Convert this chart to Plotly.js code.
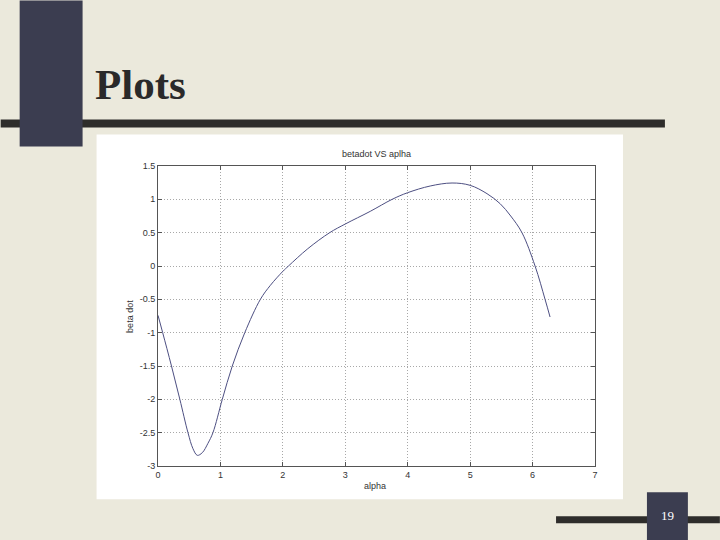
<!DOCTYPE html>
<html>
<head>
<meta charset="utf-8">
<script src="https://cdn.plot.ly/plotly-3.0.1.min.js"></script>
<style>html,body{margin:0;padding:0;background:#ebe9dc;}</style>
</head>
<body>
<div id="chart" style="width:720px;height:540px;"></div>
<script>
// Data (alpha vs beta dot)
const alpha = [0, 0.075, 0.216, 0.35, 0.48, 0.56, 0.63, 0.71, 0.8, 0.88, 1.03, 1.19, 1.39, 1.64, 1.8, 2.0, 2.09, 2.4, 2.75, 3.0, 3.4, 3.75, 4.0, 4.36, 4.71, 5.0, 5.27, 5.48, 5.65, 5.83, 6.04, 6.2, 6.28];
const betadot = [-0.74, -1.0, -1.5, -2.0, -2.5, -2.74, -2.84, -2.8, -2.66, -2.5, -2.0, -1.5, -1.0, -0.5, -0.29, -0.08, 0.0, 0.26, 0.5, 0.63, 0.82, 1.0, 1.1, 1.2, 1.245, 1.21, 1.085, 0.935, 0.75, 0.5, 0.0, -0.5, -0.765];
const xTicks = [0, 1, 2, 3, 4, 5, 6, 7];
const yTicks = [-3, -2.5, -2, -1.5, -1, -0.5, 0, 0.5, 1, 1.5];
const slideTitle = "Plots";
const chartTitle = "betadot VS aplha";
const xLabel = "alpha";
const yLabel = "beta dot";
const pageNumber = "19";

// plot area in pixels
const L = 157.5, R = 595, T = 165.6, B = 465.7;
const W = R - L, H = B - T;
const px = p => (p - L) / W;
const py = p => (B - p) / H;

function rect(x0, y0, x1, y1, color) {
  return {type: 'rect', xref: 'paper', yref: 'paper', layer: 'below',
    x0: px(x0), x1: px(x1), y0: py(y1), y1: py(y0),
    fillcolor: color, line: {width: 0}};
}

const shapes = [
  rect(0, 119, 665, 127, '#2e2d2b'),
  rect(19, 0, 82, 146, '#3b3d50'),
  rect(556, 516, 720, 523, '#2e2d2b'),
  rect(647, 492, 688, 540, '#3b3d50'),
  rect(96, 134, 623, 499, '#ffffff')
];

const font = {family: 'Liberation Sans, Arial, sans-serif', size: 9, color: '#333333'};

const annotations = [
  {text: '<b>' + slideTitle + '</b>', xref: 'paper', yref: 'paper', x: px(92), y: py(84),
   xanchor: 'left', yanchor: 'middle', showarrow: false,
   font: {family: 'Liberation Serif, Times New Roman, serif', size: 43, color: '#2a2a2a'}},
  {text: chartTitle, xref: 'paper', yref: 'paper', x: 0.5, y: py(154), xanchor: 'center', yanchor: 'middle',
   showarrow: false, font: font},
  {text: xLabel, xref: 'paper', yref: 'paper', x: px(375), y: py(486), xanchor: 'center', yanchor: 'middle',
   showarrow: false, font: font},
  {text: yLabel, xref: 'paper', yref: 'paper', x: px(130), y: py(316), xanchor: 'center', yanchor: 'middle',
   textangle: -90, showarrow: false, font: font},
  {text: pageNumber, xref: 'paper', yref: 'paper', x: px(668), y: py(515), xanchor: 'center', yanchor: 'middle',
   showarrow: false, font: {family: 'Liberation Serif, Times New Roman, serif', size: 13, color: '#ffffff'}}
];

const axisCommon = {
  showline: true, mirror: 'ticks', linecolor: '#555555', linewidth: 1,
  ticks: 'inside', ticklen: 4, tickcolor: '#555555',
  showgrid: true, gridcolor: '#a8a8a8', griddash: '1px,2px', gridwidth: 1,
  zeroline: false, tickfont: font, fixedrange: true
};

const trace = {
  x: alpha, y: betadot, type: 'scatter', mode: 'lines',
  line: {color: '#4d4f82', width: 1, shape: 'spline', smoothing: 1},
  hoverinfo: 'skip'
};

const layout = {
  width: 720, height: 540,
  margin: {l: L, r: 720 - R, t: T, b: 540 - B, pad: 0},
  paper_bgcolor: '#ebe9dc', plot_bgcolor: '#ffffff',
  showlegend: false,
  xaxis: Object.assign({}, axisCommon, {range: [0, 7], tickvals: xTicks, ticktext: xTicks.map(String)}),
  yaxis: Object.assign({}, axisCommon, {range: [-3, 1.5], tickvals: yTicks, ticktext: yTicks.map(String)}),
  shapes: shapes,
  annotations: annotations
};

Plotly.newPlot('chart', [trace], layout, {displayModeBar: false, staticPlot: true});
</script>
</body>
</html>
